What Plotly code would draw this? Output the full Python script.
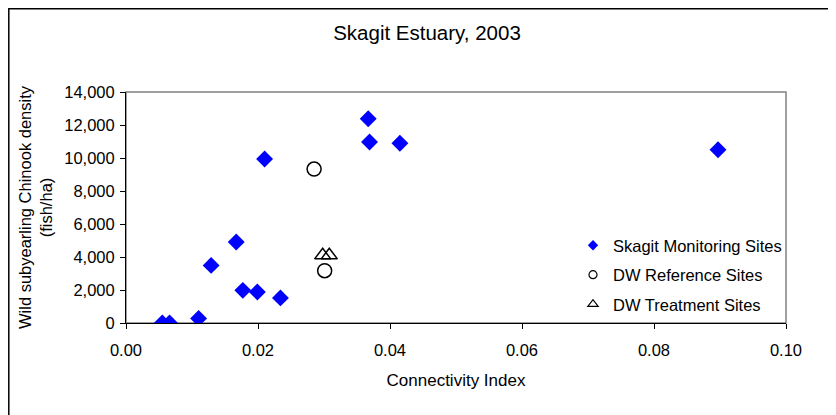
import plotly.graph_objects as go

# Data
skagit_x = [0.0055, 0.0066, 0.0110, 0.0129, 0.0167, 0.0177, 0.0199, 0.0210, 0.0234, 0.0367, 0.0369, 0.0415, 0.0897]
skagit_y = [0, 0, 280, 3490, 4910, 1980, 1880, 9940, 1520, 12380, 10970, 10890, 10500]
ref_x = [0.0285, 0.0301]
ref_y = [9330, 3170]
treat_x = [0.0298, 0.0308]
treat_y = [4100, 4100]

x_ticks = [0.00, 0.02, 0.04, 0.06, 0.08, 0.10]
y_ticks = [0, 2000, 4000, 6000, 8000, 10000, 12000, 14000]

FONT = "Liberation Sans, Arial, sans-serif"
OFF = 8  # default page body margin offset

W, H = 836, 415
L, T = 126 - OFF, 92 - OFF
PW, PH = 660, 231
R = W - L - PW
B = H - T - PH

def px_x(sx):
    return (sx - OFF - L) / PW

def px_y(sy):
    return (T + PH - (sy - OFF)) / PH

fig = go.Figure()

fig.add_trace(go.Scatter(x=skagit_x, y=skagit_y, mode="markers", showlegend=False,
                         marker=dict(symbol="diamond", size=13, color="#0000FF", line=dict(width=0))))
fig.add_trace(go.Scatter(x=ref_x, y=ref_y, mode="markers", showlegend=False,
                         marker=dict(symbol="circle-open", size=14, color="black", line=dict(width=1.5))))
fig.add_trace(go.Scatter(x=treat_x, y=treat_y, mode="markers", showlegend=False,
                         marker=dict(symbol="triangle-up-open", size=14, color="black", line=dict(width=1.5))))

fig.add_trace(go.Scatter(x=[None], y=[None], mode="markers", name="Skagit Monitoring Sites", legendgroup="a",
                         marker=dict(symbol="diamond", size=8, color="#0000FF", line=dict(width=0))))
fig.add_trace(go.Scatter(x=[None], y=[None], mode="markers", name="DW Reference Sites", legendgroup="b",
                         marker=dict(symbol="circle-open", size=8, color="black", line=dict(width=1.2))))
fig.add_trace(go.Scatter(x=[None], y=[None], mode="markers", name="DW Treatment Sites", legendgroup="c",
                         marker=dict(symbol="triangle-up-open", size=9, color="black", line=dict(width=1.2))))

fig.update_layout(
    width=W, height=H,
    margin=dict(l=L, r=R, t=T, b=B, autoexpand=False),
    paper_bgcolor="white", plot_bgcolor="white",
    font=dict(family=FONT, size=16, color="black"),
    title=dict(text="Skagit Estuary, 2003", x=(427 - OFF) / W, xanchor="center",
               y=1 - (33 - OFF) / H, yanchor="middle",
               font=dict(family=FONT, size=20.5, color="black")),
    legend=dict(x=px_x(573), xanchor="left", y=px_y(228), yanchor="top",
                bgcolor="rgba(0,0,0,0)", font=dict(family=FONT, size=16.5),
                traceorder="grouped", tracegroupgap=5, itemwidth=30),
    xaxis=dict(range=[0, 0.1], tickvals=x_ticks, tickformat=".2f", showgrid=False, zeroline=False,
               showline=True, linecolor="black", linewidth=1, ticks="outside", ticklen=5,
               tickcolor="black", ticklabelstandoff=7,
               title=dict(text="Connectivity Index", standoff=16, font=dict(size=17)),
               tickfont=dict(size=16.5)),
    yaxis=dict(range=[0, 14000], tickvals=y_ticks, tickformat=",", showgrid=False, zeroline=False,
               showline=True, linecolor="black", linewidth=1, ticks="outside", ticklen=5,
               tickcolor="black", ticklabelstandoff=2,
               title=dict(text="Wild subyearling Chinook density<br>(fish/ha)", standoff=7, font=dict(size=16.5)),
               tickfont=dict(size=16.5)),
    shapes=[
        dict(type="rect", xref="paper", yref="paper", x0=0, x1=1, y0=0, y1=1,
             line=dict(color="#808080", width=1.5), layer="below"),
        dict(type="rect", xref="paper", yref="paper", x0=-(L - 0.8) / PW, x1=1.3,
             y0=-1.0, y1=(T + PH - 0.8) / PH, line=dict(color="black", width=1.5)),
    ],
)

fig.write_html("out.html")
